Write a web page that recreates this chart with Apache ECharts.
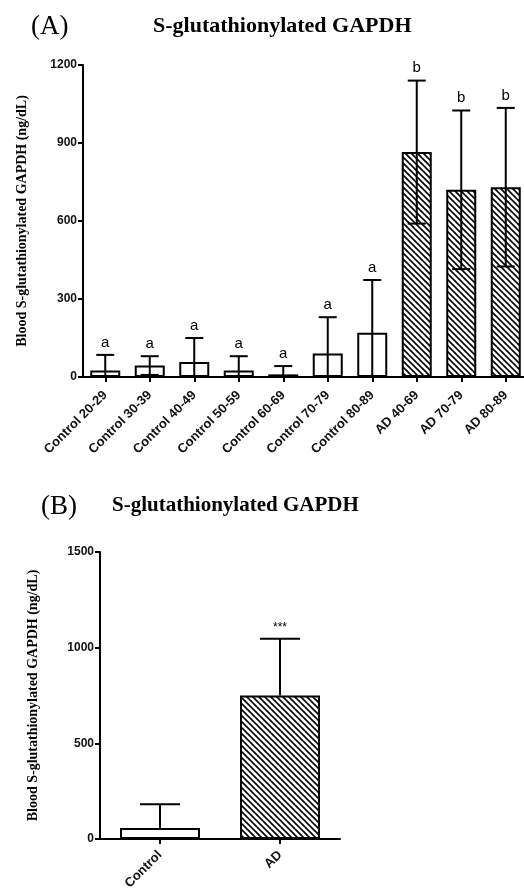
<!DOCTYPE html>
<html>
<head>
<meta charset="utf-8">
<script src="https://cdn.jsdelivr.net/npm/echarts@6/dist/echarts.min.js"></script>
<style>
  html, body { margin: 0; padding: 0; background: #fff; }
  #chart { width: 524px; height: 888px; }
</style>
</head>
<body>
<div id="chart"></div>
<script>
// panel A: age groups
var groupsA = ['Control 20-29', 'Control 30-39', 'Control 40-49', 'Control 50-59', 'Control 60-69',
               'Control 70-79', 'Control 80-89', 'AD 40-69', 'AD 70-79', 'AD 80-89'];
var meanA = [25, 44, 58, 25, 10, 90, 170, 865, 720, 730];
var sdA = [60, 36, 92, 55, 32, 140, 203, 275, 305, 305];
var letterA = ['a', 'a', 'a', 'a', 'a', 'a', 'a', 'b', 'b', 'b'];
var ticksA = [0, 300, 600, 900, 1200];

// panel B: pooled
var groupsB = ['Control', 'AD'];
var meanB = [57, 750];
var sdB = [125, 297];
var markB = ['', '***'];
var ticksB = [0, 500, 1000, 1500];

var SERIF = '"Liberation Serif", "Times New Roman", serif';
var SANS = '"Liberation Sans", Arial, sans-serif';

// hatch pattern "\\\\"
var hatch = document.createElement('canvas');
hatch.width = 6; hatch.height = 6;
(function () {
    var c = hatch.getContext('2d');
    c.fillStyle = '#fff';
    c.fillRect(0, 0, 6, 6);
    c.strokeStyle = '#000';
    c.lineWidth = 1.6;
    c.beginPath();
    c.moveTo(-1, -1); c.lineTo(7, 7);
    c.moveTo(-1, 5); c.lineTo(1, 7);
    c.moveTo(5, -1); c.lineTo(7, 1);
    c.stroke();
})();

function barData(groups, means) {
    return means.map(function (v, i) {
        var isAD = groups[i].indexOf('AD') === 0;
        return {
            value: v,
            itemStyle: { color: isAD ? { image: hatch, repeat: 'repeat' } : '#fff' }
        };
    });
}

function errRender(capHalf, showLower) {
    return function (params, api) {
        var i = api.value(0), m = api.value(1), s = api.value(2);
        var txt = params.dataIndex;
        var top = api.coord([i, m + s]);
        var lowV = Math.max(m - s, 0);
        var low = api.coord([i, showLower ? lowV : m]);
        var lineStyle = { stroke: '#000', lineWidth: 2 };
        var children = [
            { type: 'line', shape: { x1: top[0], y1: top[1], x2: low[0], y2: low[1] }, style: lineStyle },
            { type: 'line', shape: { x1: top[0] - capHalf, y1: top[1], x2: top[0] + capHalf, y2: top[1] }, style: lineStyle }
        ];
        if (showLower && m - s > 0) {
            children.push({ type: 'line', shape: { x1: low[0] - capHalf, y1: low[1], x2: low[0] + capHalf, y2: low[1] }, style: lineStyle });
        }
        var lab = params.seriesName === 'errA' ? letterA[txt] : markB[txt];
        if (lab) {
            children.push({
                type: 'text',
                style: {
                    text: lab, x: top[0], y: top[1] - 5, align: 'center', verticalAlign: 'bottom',
                    fontSize: lab === '***' ? 12 : 15, fontFamily: SANS, fill: '#000'
                }
            });
        }
        return { type: 'group', children: children };
    };
}

var myChart = echarts.init(document.getElementById('chart'));

var axisLine = { show: true, lineStyle: { color: '#000', width: 2 } };
var axisTick = { show: true, length: 5, lineStyle: { color: '#000', width: 2 } };
var plain = function (v) { return String(v); };

var option = {
    animation: false,
    backgroundColor: '#fff',
    title: [
        { text: '(A)', left: 26, top: 8, textStyle: { fontFamily: SERIF, fontWeight: 'normal', fontSize: 27, color: '#000' } },
        { text: 'S-glutathionylated GAPDH', left: 148, top: 10, textStyle: { fontFamily: SERIF, fontWeight: 'bold', fontSize: 22, color: '#000' } },
        { text: '(B)', left: 36, top: 488, textStyle: { fontFamily: SERIF, fontWeight: 'normal', fontSize: 27, color: '#000' } },
        { text: 'S-glutathionylated GAPDH', left: 107, top: 490, textStyle: { fontFamily: SERIF, fontWeight: 'bold', fontSize: 21, color: '#000' } }
    ],
    grid: [
        { left: 83, top: 65, width: 445, height: 312, outerBoundsMode: 'none', containLabel: false },
        { left: 100, top: 552, width: 240, height: 287, outerBoundsMode: 'none', containLabel: false }
    ],
    xAxis: [
        {
            type: 'category', gridIndex: 0, data: groupsA,
            axisLine: axisLine, axisTick: Object.assign({ alignWithLabel: true }, axisTick),
            axisLabel: { rotate: 45, interval: 0, margin: 16, fontFamily: SANS, fontWeight: 'bold', fontSize: 13, color: '#111' }
        },
        {
            type: 'category', gridIndex: 1, data: groupsB,
            axisLine: axisLine, axisTick: Object.assign({ alignWithLabel: true }, axisTick),
            axisLabel: { rotate: 45, interval: 0, margin: 14, fontFamily: SANS, fontWeight: 'bold', fontSize: 13, color: '#111' }
        }
    ],
    yAxis: [
        {
            type: 'value', gridIndex: 0, min: ticksA[0], max: ticksA[ticksA.length - 1], interval: 300,
            name: 'Blood S-glutathionylated GAPDH (ng/dL)', nameLocation: 'middle', nameGap: 54,
            nameTextStyle: { fontFamily: SERIF, fontWeight: 'bold', fontSize: 14, color: '#000' },
            axisLine: axisLine, axisTick: axisTick, splitLine: { show: false },
            axisLabel: { margin: 6, formatter: plain, fontFamily: SANS, fontWeight: 'bold', fontSize: 12, color: '#111' }
        },
        {
            type: 'value', gridIndex: 1, min: ticksB[0], max: ticksB[ticksB.length - 1], interval: 500,
            name: 'Blood S-glutathionylated GAPDH (ng/dL)', nameLocation: 'middle', nameGap: 60,
            nameTextStyle: { fontFamily: SERIF, fontWeight: 'bold', fontSize: 14, color: '#000' },
            axisLine: axisLine, axisTick: axisTick, splitLine: { show: false },
            axisLabel: { margin: 6, formatter: plain, fontFamily: SANS, fontWeight: 'bold', fontSize: 12, color: '#111' }
        }
    ],
    series: [
        {
            name: 'barA', type: 'bar', xAxisIndex: 0, yAxisIndex: 0, barWidth: 30,
            itemStyle: { borderColor: '#000', borderWidth: 2 },
            data: barData(groupsA, meanA)
        },
        {
            name: 'errA', type: 'custom', xAxisIndex: 0, yAxisIndex: 0, z: 5,
            renderItem: errRender(9, true),
            data: meanA.map(function (m, i) { return [i, m, sdA[i]]; })
        },
        {
            name: 'barB', type: 'bar', xAxisIndex: 1, yAxisIndex: 1, barWidth: 80,
            itemStyle: { borderColor: '#000', borderWidth: 2 },
            data: barData(groupsB, meanB)
        },
        {
            name: 'errB', type: 'custom', xAxisIndex: 1, yAxisIndex: 1, z: 5,
            renderItem: errRender(20, false),
            data: meanB.map(function (m, i) { return [i, m, sdB[i]]; })
        }
    ]
};

myChart.setOption(option);
</script>
</body>
</html>
